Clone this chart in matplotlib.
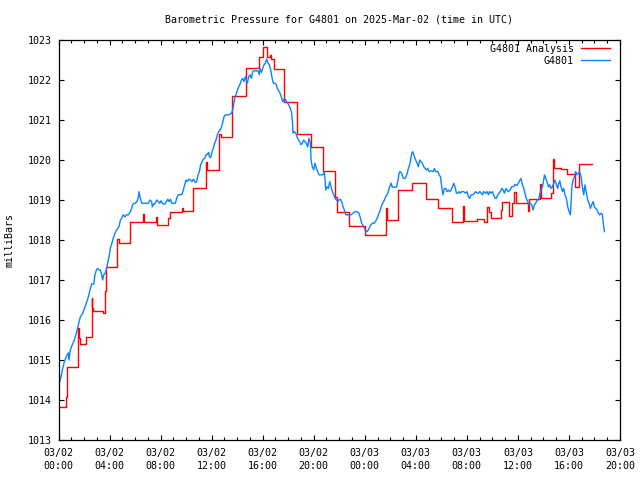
import matplotlib
matplotlib.use('Agg')
import matplotlib.pyplot as plt
from matplotlib.ticker import MultipleLocator

title = "Barometric Pressure for G4801 on 2025-Mar-02 (time in UTC)"
ylabel = "milliBars"
series_names = ["G4801 Analysis", "G4801"]

# hours since 2025-03-02 00:00 UTC
xtick_hours = [0, 4, 8, 12, 16, 20, 24, 28, 32, 36, 40, 44]
xtick_labels = ["03/02\n00:00", "03/02\n04:00", "03/02\n08:00", "03/02\n12:00",
                "03/02\n16:00", "03/02\n20:00", "03/03\n00:00", "03/03\n04:00",
                "03/03\n08:00", "03/03\n12:00", "03/03\n16:00", "03/03\n20:00"]
ytick_values = [1013, 1014, 1015, 1016, 1017, 1018, 1019, 1020, 1021, 1022, 1023]

# Analysis (step series)
red_t = [0.0, 0.56, 0.67, 1.50, 1.58, 1.71, 2.13, 2.60, 2.66, 2.72, 3.51, 3.64, 3.70,
         4.61, 4.72, 5.58, 6.60, 6.73, 7.62, 7.72, 8.61, 8.71, 9.65, 9.73, 10.57,
         11.53, 11.62, 12.60, 12.75, 13.62, 14.67, 15.74, 16.00, 16.31, 16.57, 16.68,
         16.89, 17.67, 18.72, 19.76, 20.76, 21.67, 21.80, 22.77, 24.02, 25.67, 25.75,
         26.63, 27.73, 28.78, 29.72, 30.87, 31.70, 31.78, 32.77, 33.37, 33.58, 33.70,
         33.87, 34.65, 34.78, 35.28, 35.51, 35.72, 35.85, 36.77, 36.90, 37.74, 37.81,
         38.60, 38.78, 38.86, 39.38, 39.82, 40.48, 40.79, 41.78]
red_p = [1013.82, 1014.07, 1014.83, 1015.80, 1015.55, 1015.40, 1015.57, 1016.54, 1016.30,
         1016.23, 1016.17, 1016.73, 1017.32, 1018.02, 1017.92, 1018.45, 1018.65, 1018.45,
         1018.57, 1018.37, 1018.54, 1018.69, 1018.81, 1018.73, 1019.29, 1019.96, 1019.75,
         1020.65, 1020.57, 1021.60, 1022.31, 1022.57, 1022.83, 1022.57, 1022.62, 1022.53,
         1022.27, 1021.46, 1020.65, 1020.32, 1019.72, 1019.08, 1018.69, 1018.35, 1018.13,
         1018.81, 1018.50, 1019.24, 1019.42, 1019.02, 1018.79, 1018.46, 1018.85, 1018.48,
         1018.52, 1018.46, 1018.83, 1018.70, 1018.54, 1018.75, 1018.96, 1018.59, 1018.92,
         1019.21, 1018.92, 1018.72, 1019.02, 1019.39, 1019.06, 1019.17, 1020.03, 1019.81,
         1019.78, 1019.64, 1019.33, 1019.89, 1019.89]

# Station observations
blue_t = [0.04, 0.20, 0.30, 0.46, 0.61, 0.77, 0.82, 0.93, 1.08, 1.24, 1.40, 1.56, 1.71,
          1.87, 2.03, 2.18, 2.34, 2.50, 2.60, 2.76, 2.86, 2.97, 3.07, 3.17, 3.28, 3.38,
          3.46, 3.54, 3.65, 3.75, 3.85, 3.96, 4.06, 4.22, 4.32, 4.48, 4.64, 4.74, 4.85,
          4.95, 5.06, 5.21, 5.32, 5.47, 5.63, 5.73, 5.84, 6.00, 6.15, 6.26, 6.31, 6.41,
          6.52, 6.78, 7.04, 7.17, 7.30, 7.35, 7.46, 7.56, 7.69, 7.82, 7.93, 8.03, 8.14,
          8.24, 8.35, 8.45, 8.56, 8.66, 8.77, 8.87, 9.13,
          9.16, 9.26, 9.37, 9.52, 9.68, 9.78, 9.89, 9.99, 10.10, 10.20, 10.36, 10.46,
          10.57, 10.72, 10.83, 10.93, 11.04, 11.14, 11.25, 11.35, 11.46, 11.56, 11.66,
          11.77, 11.82, 11.93, 12.03, 12.13, 12.24, 12.34, 12.45, 12.55, 12.66, 12.76,
          12.87, 12.97, 13.08, 13.18, 13.34, 13.44, 13.55, 13.65, 13.75, 13.81, 13.91,
          14.02, 14.12, 14.22, 14.33, 14.43, 14.54, 14.64, 14.69, 14.80, 14.90, 15.01,
          15.11, 15.22, 15.32, 15.48, 15.64, 15.74, 15.79, 15.90, 16.00, 16.11, 16.21,
          16.31, 16.42, 16.52, 16.63, 16.73, 16.84, 16.94, 17.05, 17.15, 17.25, 17.36,
          17.46, 17.57, 17.67, 17.78, 17.88, 18.04, 18.14,
          18.17, 18.27, 18.33, 18.38, 18.48, 18.59, 18.69, 18.80, 18.90, 19.01, 19.11,
          19.21, 19.32, 19.42, 19.53, 19.63, 19.74, 19.79, 19.89, 20.00, 20.10, 20.21,
          20.31, 20.42, 20.57, 20.73, 20.83, 20.89, 20.94, 21.04, 21.15, 21.25, 21.36,
          21.46, 21.57, 21.67, 21.77, 21.88, 21.98, 22.09, 22.19, 22.30, 22.40, 22.51,
          22.61, 22.77, 22.92, 23.08, 23.24, 23.39, 23.55, 23.66, 23.76, 23.92, 24.02,
          24.18, 24.28, 24.39, 24.49, 24.60, 24.75, 24.91, 25.07, 25.22, 25.33, 25.48,
          25.64, 25.80, 25.95, 26.06, 26.16, 26.32, 26.48, 26.58, 26.69, 26.76,
          26.89, 27.03, 27.16, 27.29, 27.42, 27.55, 27.68, 27.76, 27.89, 27.99, 28.10,
          28.20, 28.31, 28.41, 28.51, 28.62, 28.72, 28.83, 28.93, 29.04, 29.19, 29.35,
          29.46, 29.56, 29.72, 29.82, 29.93, 30.03, 30.13, 30.24, 30.34, 30.45, 30.55,
          30.66, 30.76, 30.87, 30.97, 31.07, 31.18, 31.28, 31.39, 31.49, 31.60, 31.75,
          31.91, 32.01, 32.12, 32.22, 32.33, 32.49, 32.59, 32.69, 32.80, 32.90, 33.01,
          33.11, 33.22, 33.32, 33.48, 33.58, 33.69, 33.79, 33.90, 34.00, 34.10, 34.21,
          34.31, 34.42, 34.52, 34.63, 34.73, 34.84, 34.94, 35.05, 35.15, 35.25, 35.39,
          35.51, 35.65, 35.78, 35.91, 36.04, 36.17, 36.25, 36.35, 36.46, 36.56, 36.66,
          36.77, 36.87, 36.98, 37.08, 37.19, 37.29, 37.40, 37.50, 37.60, 37.71, 37.81,
          37.92, 38.02, 38.08, 38.18, 38.28, 38.39, 38.49, 38.60, 38.70, 38.81, 38.91,
          39.02, 39.12, 39.17, 39.28, 39.38, 39.49, 39.59, 39.69, 39.80, 39.90, 40.01,
          40.11, 40.17, 40.22, 40.32, 40.43, 40.53, 40.64, 40.74, 40.84, 40.95, 41.05,
          41.16, 41.26, 41.37, 41.47, 41.58, 41.68, 41.78, 41.89, 41.99, 42.10, 42.20,
          42.31, 42.41, 42.52, 42.62, 42.67, 42.73, 42.78]
blue_p = [1014.40, 1014.58, 1014.75, 1014.96, 1015.08, 1015.18, 1015.00, 1015.25, 1015.38,
          1015.50, 1015.67, 1015.88, 1016.08, 1016.15, 1016.29, 1016.42, 1016.58, 1016.79,
          1016.90, 1016.90, 1017.13, 1017.25, 1017.29, 1017.25, 1017.25, 1017.13, 1017.00,
          1017.13, 1017.17, 1017.25, 1017.42, 1017.58, 1017.79, 1017.96, 1018.08, 1018.21,
          1018.29, 1018.33, 1018.50, 1018.54, 1018.63, 1018.58, 1018.63, 1018.63, 1018.71,
          1018.79, 1018.90, 1018.92, 1018.96, 1019.08, 1019.21, 1019.04, 1018.92, 1018.92,
          1018.92, 1019.00, 1018.96, 1018.83, 1018.90, 1018.90, 1019.00, 1018.96, 1018.92,
          1018.98, 1018.92, 1018.90, 1018.90, 1018.96, 1019.02, 1018.96, 1019.02, 1018.92,
          1018.92,
          1018.92, 1019.04, 1019.13, 1019.13, 1019.14, 1019.25, 1019.38, 1019.50, 1019.46,
          1019.52, 1019.50, 1019.46, 1019.52, 1019.44, 1019.46, 1019.63, 1019.71, 1019.88,
          1019.96, 1020.02, 1020.04, 1020.13, 1020.14, 1020.19, 1020.08, 1020.06, 1020.21,
          1020.29, 1020.42, 1020.50, 1020.63, 1020.71, 1020.75, 1020.81, 1020.94, 1021.08,
          1021.13, 1021.13, 1021.13, 1021.14, 1021.17, 1021.25, 1021.44, 1021.54, 1021.63,
          1021.75, 1021.83, 1021.89, 1022.00, 1022.04, 1021.96, 1022.08, 1022.04, 1021.92,
          1022.08, 1022.13, 1022.04, 1022.21, 1022.23, 1022.23, 1022.23, 1022.13, 1022.29,
          1022.19, 1022.29, 1022.38, 1022.42, 1022.53, 1022.42, 1022.38, 1022.25, 1022.06,
          1021.92, 1021.92, 1021.89, 1021.79, 1021.73, 1021.67, 1021.58, 1021.46, 1021.52,
          1021.52, 1021.46, 1021.38, 1021.31,
          1021.29, 1021.17, 1020.96, 1020.67, 1020.71, 1020.67, 1020.58, 1020.50, 1020.46,
          1020.38, 1020.42, 1020.50, 1020.46, 1020.42, 1020.33, 1020.54, 1020.42, 1020.00,
          1019.83, 1019.75, 1019.92, 1019.79, 1019.71, 1019.63, 1019.63, 1019.63, 1019.71,
          1019.50, 1019.25, 1019.33, 1019.29, 1019.46, 1019.33, 1019.21, 1019.13, 1019.04,
          1019.00, 1018.96, 1019.00, 1019.02, 1018.96, 1018.83, 1018.75, 1018.63, 1018.63,
          1018.63, 1018.63, 1018.67, 1018.71, 1018.71, 1018.67, 1018.54, 1018.42, 1018.33,
          1018.25, 1018.21, 1018.25, 1018.33, 1018.38, 1018.42, 1018.42, 1018.50, 1018.63,
          1018.75, 1018.88, 1018.96, 1019.08, 1019.17, 1019.33, 1019.42, 1019.32, 1019.32,
          1019.32, 1019.46, 1019.67, 1019.71,
          1019.67, 1019.54, 1019.54, 1019.63, 1019.79, 1019.92, 1020.17, 1020.21, 1020.08,
          1020.00, 1019.92, 1019.83, 1020.00, 1019.96, 1019.92, 1019.83, 1019.79, 1019.75,
          1019.79, 1019.71, 1019.73, 1019.71, 1019.79, 1019.71, 1019.71, 1019.63, 1019.58,
          1019.33, 1019.13, 1019.29, 1019.29, 1019.21, 1019.25, 1019.21, 1019.25, 1019.33,
          1019.42, 1019.33, 1019.17, 1019.17, 1019.21, 1019.17, 1019.21, 1019.21, 1019.17,
          1019.21, 1019.08, 1019.04, 1019.13, 1019.13, 1019.17, 1019.21, 1019.17, 1019.17,
          1019.21, 1019.17, 1019.13, 1019.21, 1019.17, 1019.21, 1019.13, 1019.21, 1019.17,
          1019.21, 1019.13, 1019.04, 1019.04, 1019.13, 1019.17, 1019.21, 1019.29, 1019.25,
          1019.17, 1019.29, 1019.25, 1019.21, 1019.25,
          1019.33, 1019.33, 1019.39, 1019.36, 1019.42, 1019.50, 1019.54, 1019.38, 1019.29,
          1019.17, 1019.04, 1018.96, 1018.88, 1018.92, 1018.88, 1018.75, 1018.88, 1018.92,
          1019.00, 1019.00, 1019.13, 1019.25, 1019.33, 1019.50, 1019.63, 1019.54, 1019.46,
          1019.33, 1019.38, 1019.29, 1019.33, 1019.42, 1019.50, 1019.38, 1019.29, 1019.38,
          1019.48, 1019.33, 1019.21, 1019.29, 1019.13, 1019.04, 1018.83, 1018.71, 1018.63,
          1018.96, 1019.29, 1019.50, 1019.58, 1019.71, 1019.63, 1019.67, 1019.71, 1019.58,
          1019.33, 1019.13, 1019.38, 1019.17, 1019.00, 1018.92, 1018.79, 1018.88, 1018.96,
          1018.83, 1018.79, 1018.75, 1018.67, 1018.63, 1018.67, 1018.63, 1018.46, 1018.33,
          1018.21]

plt.rcParams['font.family'] = ['DejaVu Sans Mono']
plt.rcParams['font.size'] = 7.2

W, H = 640, 480
L, R, T, B = 58.5, 620, 40, 440
fig = plt.figure(figsize=(6.4, 4.8), dpi=100)
ax = fig.add_axes([L / W, (H - B) / H, (R - L) / W, (B - T) / H])

ax.step(red_t, red_p, where='post', color='#ff0000', lw=1.0, label=series_names[0])
ax.plot(blue_t, blue_p, color='#0a84ff', lw=1.0, label=series_names[1])

ax.set_xlim(xtick_hours[0], xtick_hours[-1])
ax.set_ylim(ytick_values[0], ytick_values[-1])
ax.set_xticks(xtick_hours)
ax.set_xticklabels(xtick_labels, linespacing=1.3)
ax.xaxis.set_minor_locator(MultipleLocator(1))
ax.set_yticks(ytick_values)
ax.set_yticklabels([str(v) for v in ytick_values])

for s in ax.spines.values():
    s.set_linewidth(0.9)
    s.set_color('black')
ax.tick_params(which='both', direction='in', top=True, right=True, width=0.8, colors='black')
ax.tick_params(which='major', length=3.5)
ax.tick_params(which='minor', length=2)
ax.tick_params(axis='x', which='major', pad=6)
ax.tick_params(axis='y', which='major', pad=4.5)

fig.text((L + R) / 2 / W, 1 - 20 / H, title, ha='center', va='center')
fig.text(10 / W, 1 - (T + B) / 2 / H, ylabel, rotation=90, ha='center', va='center')

ax.legend(loc='upper right', bbox_to_anchor=(0.982, 0.99), frameon=False,
          markerfirst=False, borderpad=0, borderaxespad=0, handlelength=2.9,
          handletextpad=0.7, labelspacing=0.2)

fig.savefig('out.png', dpi=100)
